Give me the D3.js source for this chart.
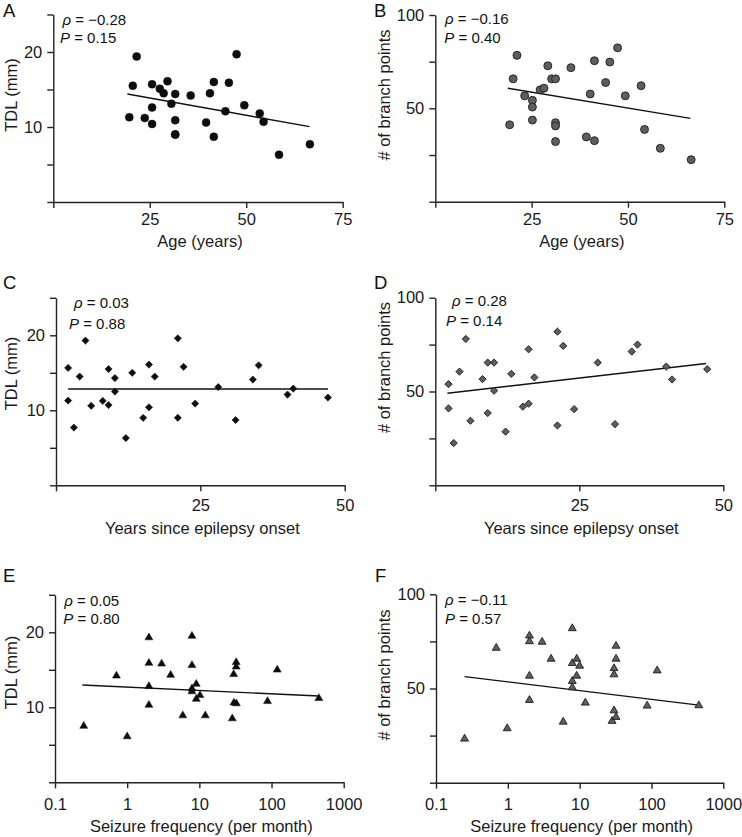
<!DOCTYPE html>
<html><head><meta charset="utf-8">
<script src="https://cdn.jsdelivr.net/npm/d3@7"></script>
<style>
html,body{margin:0;padding:0;background:#fff;}
svg{display:block;font-family:"Liberation Sans",Arial,sans-serif;}
</style></head>
<body><svg id="chart" width="742" height="837"></svg>
<script>
// ---------- data ----------
const ageA = [19.7,20.6,21.6,23.7,25.6,25.6,25.6,27.6,28.6,29.6,30.6,31.6,31.6,31.6,31.6,35.6,39.6,40.6,41.6,41.6,44.6,45.5,47.5,49.5,53.5,54.5,58.5,66.5];
const tdlA = [11.3,15.5,19.4,11.2,15.7,12.6,10.4,15.1,14.5,16.1,13.1,14.4,10.9,9.0,9.0,14.2,10.6,14.5,16.0,8.7,12.1,15.9,19.7,12.9,11.8,10.7,6.3,7.7];
const ageB = [19.3,20.2,21.2,23.2,25.2,25.2,25.2,27.2,28.2,29.2,30.2,31.2,31.2,31.2,31.2,35.2,39.2,40.2,41.3,41.3,44.2,45.3,47.3,49.3,53.4,54.3,58.4,66.4];
const bpB  = [41.2,65.8,78.4,56.7,54.3,50.7,43.7,59.9,60.8,72.8,65.8,65.8,42.3,40.6,32.2,71.8,34.7,57.7,75.5,32.7,63.8,74.8,82.4,56.7,62.1,38.7,28.6,22.5];
const yrsC = [2.1,2.1,3.1,4.1,5.1,6.1,8.1,9.1,9.1,10.2,10.2,12.1,13.2,15.1,16.1,16.1,17.1,21.1,21.1,22.1,24.1,28.1,31.1,34.1,35.1,40.1,41.1,47.1];
const tdlC = [15.65,11.3,7.7,14.5,19.3,10.6,11.25,15.5,10.7,14.3,12.5,6.3,15.0,9.0,16.1,10.4,14.5,19.6,9.0,15.8,10.9,13.1,8.7,14.1,16.0,12.1,12.9,11.7];
const yrsD = [2.3,2.3,3.2,4.2,5.3,6.1,8.2,9.1,9.1,10.2,10.2,12.2,13.2,15.2,16.2,16.2,17.2,21.2,21.2,22.2,24.1,28.2,31.2,34.1,35.1,40.1,41.1,47.2];
const bpD  = [53.9,41.0,22.5,60.6,78.0,34.4,56.6,65.4,38.5,65.4,50.4,28.6,59.4,41.9,72.5,43.5,57.5,81.9,31.9,74.3,40.6,65.4,32.6,71.3,75.0,63.3,56.4,61.9];
const freqE = [0.25,0.71,1.0,2.0,2.0,2.0,2.0,3.0,4.0,5.9,7.9,7.9,7.9,7.9,9.06,9.06,10.2,12.1,28.6,29.9,32.4,32.4,30.1,32.6,88,120,453];
const tdlE  = [7.5,14.2,6.1,19.3,15.9,12.8,10.3,15.8,14.3,8.9,19.5,15.6,12.5,12.1,13.1,11.1,11.6,8.9,8.5,14.4,16.0,15.4,10.6,10.5,10.8,15.0,11.2];
const freqF = [0.25,0.69,0.98,2.0,2.0,2.0,2.0,3.0,4.0,5.9,7.9,7.9,7.9,7.9,9.1,9.1,10.0,12.0,28.3,30.1,32.1,30.1,30.1,32.1,32.1,87,120,456];
const bpF   = [23.3,71.5,28.8,78.0,75.0,56.7,43.8,74.7,65.7,32.3,81.9,63.4,53.9,50.5,65.7,56.7,62.0,42.4,32.7,38.3,34.8,60.7,57.4,72.6,65.7,40.8,59.5,41.0];

// regression line end points (x values, y values)
const fitA = [[19.2,66.4],[14.4,10.05]];
const fitB = [[18.8,66.2],[60.8,44.6]];
const fitC = [[2.1,47.1],[12.85,12.85]];
const fitD = [[2.1,47.0],[49.1,64.9]];
const fitE = [[0.24,453],[12.97,11.5]];
const fitF = [[0.25,456],[56.3,41.2]];

const statsRho = ["\u22120.28","\u22120.16","0.03","0.28","0.05","\u22120.11"];
const statsP   = ["0.15","0.40","0.88","0.14","0.80","0.57"];
const panelLetters = ["A","B","C","D","E","F"];

const tdlTicks = [0,5,10,15,20,25], tdlLabels = [10,20];
const bpTicks = [0,25,50,75,100], bpLabels = [50,100];
const ageTicks = [0,25,50,75], ageLabels = [25,50,75];
const yrsTicks = [0,25,50], yrsLabels = [25,50];
const freqTicks = [0.1,1,10,100,1000];

const titleTDL = "TDL (mm)", titleBP = "# of branch points";
const titleAge = "Age (years)", titleYrs = "Years since epilepsy onset", titleFreq = "Seizure frequency (per month)";

// ---------- layout ----------
const panels = [
 {L:0, xs:ageA, ys:tdlA, fit:fitA, xDom:[0,75], yDom:[0,25], xr:[53.3,342.7], yr:[202,14.5], xT:ageTicks, xL:ageLabels, yT:tdlTicks, yL:tdlLabels, xt:titleAge, yt:titleTDL, sym:"circle", grey:false,
  letter:[3,16.7], rho:[62.5,25], p:[60,42.7], ytx:16.5, yty:95, xtY:247.3, xPad:5.5},
 {L:1, xs:ageB, ys:bpB, fit:fitB, xDom:[0,75], yDom:[0,100], xr:[435.3,724.3], yr:[201.7,15], xT:ageTicks, xL:ageLabels, yT:bpTicks, yL:bpLabels, xt:titleAge, yt:titleBP, sym:"circle", grey:true,
  letter:[374,16.7], rho:[445,24.3], p:[444.3,42.7], ytx:389.5, yty:95, xtY:247.3, xPad:5.5},
 {L:2, xs:yrsC, ys:tdlC, fit:fitC, xDom:[0,50], yDom:[0,25], xr:[56,344.7], yr:[485.3,297.8], xT:yrsTicks, xL:yrsLabels, yT:tdlTicks, yL:tdlLabels, xt:titleYrs, yt:titleTDL, sym:"diamond", grey:false,
  letter:[3,289.3], rho:[74,308.3], p:[69,329.3], ytx:16.5, yty:373.5, xtY:534.3, xPad:7.5},
 {L:3, xs:yrsD, ys:bpD, fit:fitD, xDom:[0,50], yDom:[0,100], xr:[435.3,723.3], yr:[485.3,297.7], xT:yrsTicks, xL:yrsLabels, yT:bpTicks, yL:bpLabels, xt:titleYrs, yt:titleBP, sym:"diamond", grey:true,
  letter:[374,289.3], rho:[452,306], p:[446,326], ytx:389.5, yty:367.5, xtY:534.3, xPad:7.5},
 {L:4, xs:freqE, ys:tdlE, fit:fitE, log:true, xDom:[0.1,1000], yDom:[0,25], xr:[55,343.7], yr:[782.3,594.8], xT:freqTicks, xL:freqTicks, yT:tdlTicks, yL:tdlLabels, xt:titleFreq, yt:titleTDL, sym:"triangle", grey:false,
  letter:[3,581.7], rho:[64.3,605.7], p:[63.3,624.3], ytx:16.5, yty:672.5, xtY:831.7, xPad:9.5},
 {L:5, xs:freqF, ys:bpF, fit:fitF, log:true, xDom:[0.1,1000], yDom:[0,100], xr:[436,723.3], yr:[782.7,594.3], xT:freqTicks, xL:freqTicks, yT:bpTicks, yL:bpLabels, xt:titleFreq, yt:titleBP, sym:"triangle", grey:true,
  letter:[375,581.7], rho:[445,605], p:[445,624], ytx:389.5, yty:675, xtY:831.7, xPad:9.5}
];

const svg = d3.select("#chart");
const FS = 16.5;

panels.forEach(pn => {
  const g = svg.append("g");
  const x = (pn.log ? d3.scaleLog() : d3.scaleLinear()).domain(pn.xDom).range(pn.xr);
  const y = d3.scaleLinear().domain(pn.yDom).range(pn.yr);

  // axes
  const yAx = d3.axisLeft(y).tickValues(pn.yT).tickSize(6).tickSizeOuter(0).tickPadding(5)
      .tickFormat(d => pn.yL.includes(d) ? d : "");
  const xAx = d3.axisBottom(x).tickValues(pn.xT).tickSize(6).tickSizeOuter(0).tickPadding(pn.xPad)
      .tickFormat(d => pn.xL.includes(d) ? String(d) : "");
  const ga = g.append("g").attr("transform", `translate(${pn.xr[0]},0)`).call(yAx);
  const gb = g.append("g").attr("transform", `translate(0,${pn.yr[0]})`).call(xAx);
  [ga,gb].forEach(a => {
    a.selectAll("path,line").attr("stroke","#222").attr("stroke-width",1.4);
    a.selectAll("text").attr("font-size",FS).attr("fill","#1a1a1a")
      .attr("font-family",'"Liberation Sans",Arial,sans-serif');
  });

  // regression line
  g.append("line")
    .attr("x1", x(pn.fit[0][0])).attr("x2", x(pn.fit[0][1]))
    .attr("y1", y(pn.fit[1][0])).attr("y2", y(pn.fit[1][1]))
    .attr("stroke","#111").attr("stroke-width",1.4);

  // points
  let sym, size, rot = 0;
  if (pn.sym === "circle") { sym = d3.symbolCircle; size = 50; }
  else if (pn.sym === "diamond") { sym = d3.symbolSquare; size = 26; rot = 45; }
  else { sym = d3.symbolTriangle; size = 27; }
  const path = d3.symbol().type(sym).size(size);
  g.selectAll("path.pt").data(pn.xs.map((v,i) => [v, pn.ys[i]])).join("path")
    .attr("class","pt")
    .attr("d", path)
    .attr("transform", d => `translate(${x(d[0])},${y(d[1])}) rotate(${rot})`)
    .attr("fill", pn.grey ? "#5e5e5e" : "#0d0d0d")
    .attr("stroke", pn.grey ? "#1e1e1e" : "#0d0d0d")
    .attr("stroke-width", pn.grey ? 0.9 : 0.5);

  // stats text
  const t1 = g.append("text").attr("x", pn.rho[0]).attr("y", pn.rho[1]).attr("font-size",15).attr("fill","#111");
  t1.append("tspan").attr("font-style","italic").text("\u03c1");
  t1.append("tspan").text(" = " + statsRho[pn.L]);
  const t2 = g.append("text").attr("x", pn.p[0]).attr("y", pn.p[1]).attr("font-size",15).attr("fill","#111");
  t2.append("tspan").attr("font-style","italic").text("P");
  t2.append("tspan").text(" = " + statsP[pn.L]);

  // panel letter
  g.append("text").attr("x", pn.letter[0]).attr("y", pn.letter[1]).attr("font-size",18.5).attr("fill","#111").text(panelLetters[pn.L]);

  // axis titles
  g.append("text").attr("x", (pn.xr[0]+pn.xr[1])/2 + 2).attr("y", pn.xtY).attr("text-anchor","middle")
    .attr("font-size",FS).attr("fill","#1a1a1a").text(pn.xt);
  g.append("text").attr("transform", `translate(${pn.ytx},${pn.yty}) rotate(-90)`).attr("text-anchor","middle")
    .attr("font-size",FS).attr("fill","#1a1a1a").text(pn.yt);
});
</script></body></html>
